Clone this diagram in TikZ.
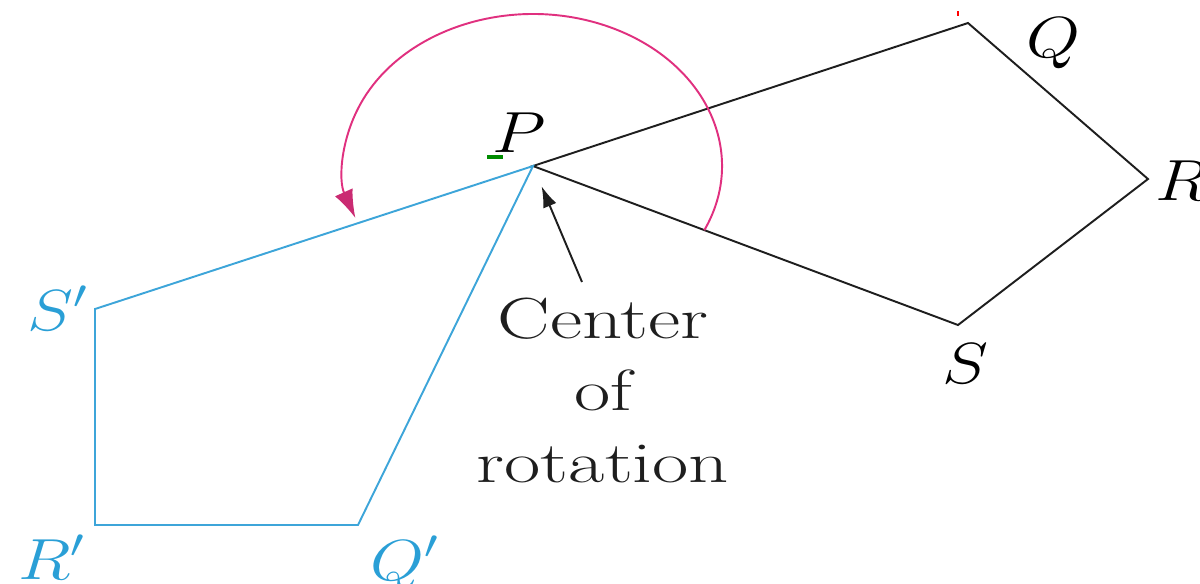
\RequirePackage{fix-cm}
\documentclass[tikz,border=0pt]{standalone}
\usepackage{amsmath,amssymb}
\usepackage{xcolor}
\usepackage{tikz}
\usetikzlibrary{arrows.meta,calc,positioning}
\definecolor{imageblue}{HTML}{3DA5D9}
\definecolor{labelblue}{HTML}{2A9FD6}
\definecolor{turnmagenta}{HTML}{E0307F}
\definecolor{edgegray}{HTML}{1E1E1E}
\newcommand{\wide}[1]{\scalebox{1.2}[1]{#1}}
\newcommand{\wider}[1]{\scalebox{1.36}[1]{#1}}

\begin{document}
\begin{tikzpicture}[x=0.02cm,y=-0.02cm,>=Latex,
  lbl/.style={font=\fontsize{33}{41}\selectfont,inner sep=0pt},
  orig/.style={edgegray,line width=1.1pt,line join=miter},
  img/.style={imageblue,line width=1.1pt,line join=miter}]
  \useasboundingbox (0,0) rectangle (1200,583);
  % original figure and its image
  \coordinate (P) at (533,166);
  \coordinate (Q) at (968,23);
  \coordinate (R) at (1148,179);
  \coordinate (S) at (958,325);
  \coordinate (S1) at (95,309);
  \coordinate (R1) at (95,525);
  \coordinate (Q1) at (358,525);
  \draw[orig] (P) -- (Q) -- (R) -- (S) -- cycle;
  \draw[img] (P) -- (S1) -- (R1) -- (Q1) -- cycle;
  % turning arc
  \draw[turnmagenta,line width=1.1pt,-{Latex[length=16pt,width=11pt,color=turnmagenta!90!black]}]
    ($(P)+(25:189 and 152)$) arc[start angle=25,end angle=-200,x radius=189,y radius=152];
  % vertex labels
  \node[lbl,anchor=base] (lP) at (519,152) {\wide{$P$}};
  \node[lbl,anchor=base] (lQ) at (1053,57) {\wide{$Q$}};
  \node[lbl,anchor=base west] (lR) at (1155,200) {\wide{$R$}};
  \node[lbl,anchor=base] (lS) at (965,383) {\wide{$S$}};
  \node[lbl,anchor=base west,labelblue] (lS1) at (27,330) {\wide{$S'$}};
  \node[lbl,anchor=base west,labelblue] (lR1) at (18,579) {\wide{$R'$}};
  \node[lbl,anchor=base west,labelblue] (lQ1) at (370,580) {\wide{$Q'$}};
  % center of rotation
  \node[lbl,anchor=north,align=center,edgegray] (cor) at (603,298)
    {\wider{Center}\\\wider{of}\\\wider{rotation}};
  \coordinate (tail) at (582,282);
  \draw[edgegray,line width=1.1pt,->,>={Latex[length=12pt,width=8pt]},shorten >=12.5pt] (tail) -- (P);
  % stray marks
  \draw[green!55!black,line width=1.8pt] (487,157) -- (503,157);
  \draw[red,line width=1pt] (958,11) -- (958,16);
\end{tikzpicture}
\end{document}
